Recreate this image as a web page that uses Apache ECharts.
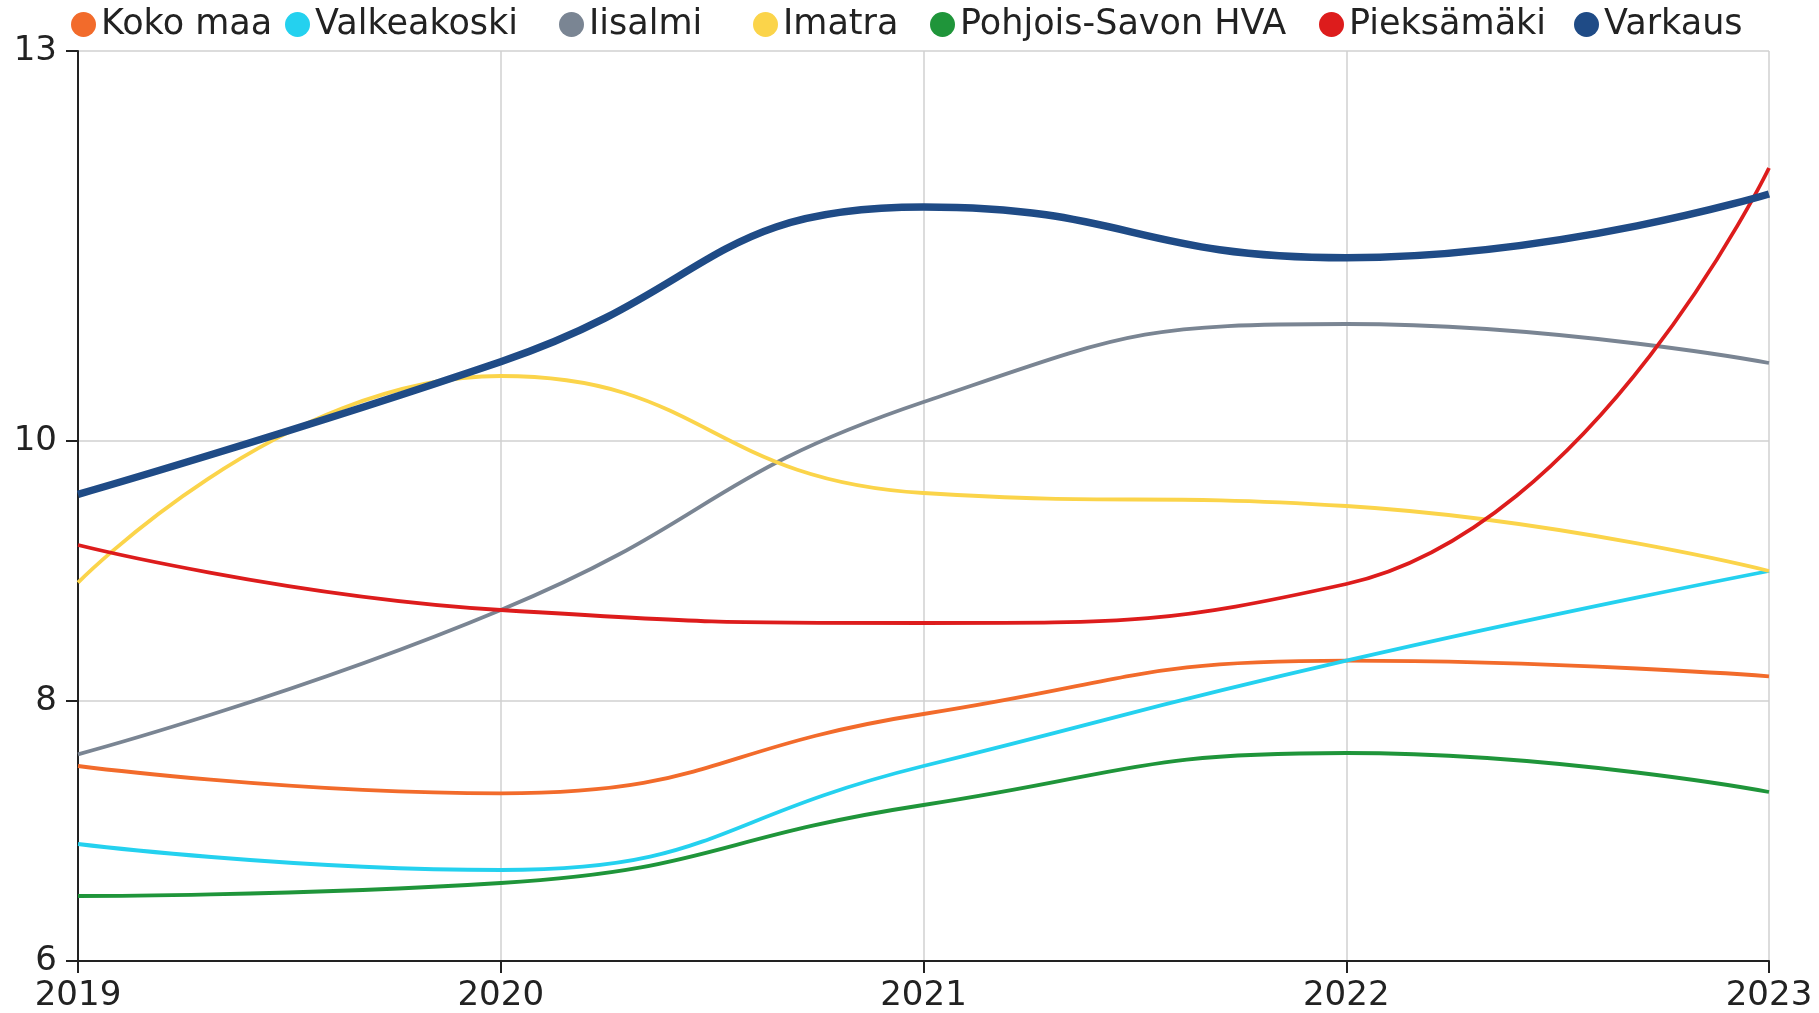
<!DOCTYPE html>
<html>
<head>
<meta charset="utf-8">
<script src="https://cdn.jsdelivr.net/npm/echarts@6/dist/echarts.min.js"></script>
<style>
  html, body { margin: 0; padding: 0; background: #fff; }
  #chart { width: 1819px; height: 1013px; }
</style>
</head>
<body>
<div id="chart"></div>
<script>
const years = ['2019', '2020', '2021', '2022', '2023'];
const yTicks = [6, 8, 10, 13];

const kokoMaa = [7.5, 7.29, 7.9, 8.31, 8.19];
const valkeakoski = [6.9, 6.7, 7.5, 8.31, 9.0];
const iisalmi = [7.59, 8.7, 10.3, 10.9, 10.6];
const imatra = [8.91, 10.5, 9.6, 9.5, 9.0];
const pohjoisSavon = [6.5, 6.6, 7.2, 7.6, 7.3];
const pieksamaki = [9.2, 8.7, 8.6, 8.9, 12.1];
const varkaus = [9.59, 10.61, 11.8, 11.41, 11.9];

const seriesDefs = [
    { name: 'Koko maa', data: kokoMaa, color: '#f26b2b', width: 3.8 },
    { name: 'Valkeakoski', data: valkeakoski, color: '#24d1ef', width: 3.8 },
    { name: 'Iisalmi', data: iisalmi, color: '#7a8593', width: 3.8 },
    { name: 'Imatra', data: imatra, color: '#fbd44a', width: 3.8 },
    { name: 'Pohjois-Savon HVA', data: pohjoisSavon, color: '#1f953a', width: 3.8 },
    { name: 'Pieksämäki', data: pieksamaki, color: '#dd1c1c', width: 3.8 },
    { name: 'Varkaus', data: varkaus, color: '#1f4b86', width: 7.5 }
];

// legend item x positions (px), one legend per item to match the spacing
const legendLeft = [66, 280, 554, 748, 925, 1314, 1569];

const chart = echarts.init(document.getElementById('chart'));
const font = 'DejaVu Sans';

const legends = seriesDefs.map((s, i) => ({
    left: legendLeft[i],
    top: 2,
    orient: 'horizontal',
    icon: 'circle',
    itemWidth: 25,
    itemHeight: 25,
    selectedMode: false,
    textStyle: {
        fontFamily: font,
        fontSize: 35,
        color: '#222',
        padding: [0, 0, 0, 0]
    },
    data: [s.name]
}));

const option = {
    animation: false,
    backgroundColor: '#fff',
    color: seriesDefs.map(s => s.color),
    legend: legends,
    grid: {
        left: 78,
        right: 50,
        top: 51,
        bottom: 50
    },
    xAxis: {
        type: 'category',
        data: years,
        boundaryGap: false,
        axisLine: { lineStyle: { color: '#222', width: 2 } },
        axisTick: { show: true, length: 12, lineStyle: { color: '#222', width: 2 } },
        splitLine: { show: true, lineStyle: { color: '#d0d0d0', width: 1.5 } },
        axisLabel: {
            fontFamily: font,
            fontSize: 34,
            color: '#222',
            margin: 18
        }
    },
    yAxis: {
        type: 'value',
        min: 6,
        max: 13,
        axisLine: { show: true, lineStyle: { color: '#222', width: 2 } },
        axisTick: { show: true, length: 12, customValues: yTicks, lineStyle: { color: '#222', width: 2 } },
        splitLine: { show: true, lineStyle: { color: '#d0d0d0', width: 1.5 } },
        axisLabel: {
            customValues: yTicks,
            fontFamily: font,
            fontSize: 34,
            color: '#222',
            margin: 21
        }
    },
    series: seriesDefs.map(s => ({
        name: s.name,
        type: 'line',
        data: s.data,
        smooth: true,
        showSymbol: false,
        symbol: 'none',
        lineStyle: { color: s.color, width: s.width },
        itemStyle: { color: s.color }
    }))
};

chart.setOption(option);
</script>
</body>
</html>
